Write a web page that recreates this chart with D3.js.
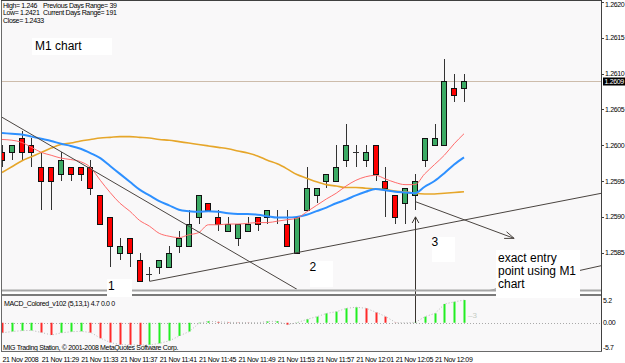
<!DOCTYPE html>
<html>
<head>
<meta charset="utf-8">
<script src="https://cdn.jsdelivr.net/npm/d3@7"></script>
<style>
body { margin: 0; background: #fff; }
svg { display: block; }
.small { font-family: "Liberation Sans", Arial, sans-serif; font-size: 7px; letter-spacing: -0.35px; fill: #000; }
.note { font-family: "Liberation Sans", Arial, sans-serif; font-size: 12px; fill: #000; }
</style>
</head>
<body>
<div id="chart"></div>
<script>
const width = 625, height = 363;

// M1 candles, 21 Nov 2008 11:25 .. 12:12
const opens  = [1.2599,1.2599,1.2601,1.2600,1.2597,1.2597,1.2596,1.2597,1.2597,1.2597,1.2593,1.2590,1.2585,1.2587,1.2584,1.2582,
                1.2583,1.2583,1.2586,1.2586,1.2590,1.2592,1.2590,1.2588,1.2587,1.2588,1.2590,1.2590,1.2590,1.2589,1.2585,1.2591,
                1.2593,1.2595,1.2595,1.2598,1.2599,1.2598,1.2600,1.2595,1.2593,1.2592,1.2593,1.2598,1.2600,1.2600,1.2608,1.2608];
const highs  = [1.2600,1.2600,1.2602,1.2601,1.2599,1.2597,1.2599,1.2597,1.2597,1.2598,1.2593,1.2590,1.2587,1.2587,1.2585,1.2583,
                1.2584,1.2586,1.2588,1.2591,1.2593,1.2592,1.2591,1.2590,1.2589,1.2590,1.2590,1.2591,1.2591,1.2591,1.2590,1.2597,
                1.2594,1.2596,1.2600,1.2603,1.2600,1.2600,1.2600,1.2597,1.2593,1.2594,1.2596,1.2601,1.2603,1.2612,1.2610,1.2610];
const lows   = [1.2597,1.2598,1.2598,1.2597,1.2591,1.2591,1.2595,1.2595,1.2595,1.2593,1.2589,1.2583,1.2584,1.2583,1.2581,1.2581,
                1.2582,1.2583,1.2585,1.2586,1.2589,1.2591,1.2588,1.2588,1.2586,1.2588,1.2588,1.2589,1.2589,1.2586,1.2585,1.2591,
                1.2592,1.2594,1.2595,1.2597,1.2597,1.2597,1.2595,1.2590,1.2589,1.2589,1.2591,1.2597,1.2600,1.2600,1.2606,1.2606];
const closes = [1.2598,1.2600,1.2599,1.2599,1.2595,1.2595,1.2598,1.2596,1.2596,1.2594,1.2589,1.2586,1.2586,1.2585,1.2581,1.2582,
                1.2584,1.2585,1.2587,1.2589,1.2593,1.2591,1.2589,1.2589,1.2589,1.2589,1.2589,1.2591,1.2590,1.2586,1.2590,1.2594,
                1.2594,1.2596,1.2597,1.2600,1.2599,1.2599,1.2596,1.2594,1.2590,1.2594,1.2595,1.2601,1.2601,1.2609,1.2607,1.2609];

// moving averages (red fast, blue mid, orange slow)
const maRed    = [1.26008,1.26007,1.26004,1.25997,1.25990,1.25986,1.25982,1.25980,1.25977,1.25969,1.25951,1.25934,1.25919,1.25908,1.25895,1.25887,
                  1.25877,1.25873,1.25871,1.25875,1.25878,1.25889,1.25889,1.25890,1.25890,1.25891,1.25892,1.25892,1.25894,1.25896,1.25898,1.25907,
                  1.25916,1.25925,1.25933,1.25943,1.25951,1.25956,1.25958,1.25953,1.25948,1.25945,1.25945,1.25960,1.25973,1.25986,1.26002,1.26016];
const maBlue   = [1.26017,1.26016,1.26015,1.26012,1.26009,1.26006,1.26002,1.25999,1.25995,1.25989,1.25982,1.25971,1.25960,1.25949,1.25938,1.25930,
                  1.25922,1.25916,1.25910,1.25908,1.25907,1.25908,1.25907,1.25905,1.25904,1.25904,1.25903,1.25901,1.25899,1.25899,1.25900,1.25903,
                  1.25908,1.25913,1.25919,1.25924,1.25930,1.25935,1.25939,1.25937,1.25935,1.25934,1.25933,1.25942,1.25950,1.25961,1.25973,1.25983];
const maOrange = [1.25962,1.25970,1.25978,1.25984,1.25990,1.25996,1.26001,1.26003,1.26006,1.26008,1.26010,1.26011,1.26012,1.26012,1.26011,1.26010,
                  1.26008,1.26007,1.26005,1.26003,1.26001,1.25999,1.25997,1.25995,1.25992,1.25989,1.25985,1.25979,1.25974,1.25967,1.25959,1.25954,
                  1.25949,1.25945,1.25943,1.25941,1.25941,1.25940,1.25939,1.25938,1.25936,1.25935,1.25933,1.25932,1.25932,1.25933,1.25934,1.25935];

// MACD_Colored histogram
const macdVals = [-2.3,-2.0,-1.8,-1.75,-2.25,-2.8,-2.3,-2.05,-1.95,-2.25,-3.55,-4.55,-5.0,-5.05,-5.1,-5.05,
                  -4.7,-4.1,-3.0,-2.0,-0.1,0.35,0.2,0.1,0.05,0.05,0.0,0.3,0.35,-0.45,0.05,0.8,
                  1.4,2.15,2.55,3.3,3.55,3.3,2.4,1.4,0.05,0.0,0.1,1.4,2.15,4.3,4.8,5.2];

const priceTicks = [1.2620,1.2615,1.2610,1.2605,1.2600,1.2595,1.2590,1.2585];
const macdTicks = [5.2, 0, -5.7];
const macdTickLabels = ["5.2", "0.00", "-5.7"];
const timeIdx = [0,4,8,12,16,20,24,28,32,36,40,44];
const timeLabels = ["21 Nov 2008","21 Nov 11:29","21 Nov 11:33","21 Nov 11:37","21 Nov 11:41","21 Nov 11:45",
                    "21 Nov 11:49","21 Nov 11:53","21 Nov 11:57","21 Nov 12:01","21 Nov 12:05","21 Nov 12:09"];
const bid = 1.2609;

const infoLines = [["High= 1.246", "Previous Days Range= 39"], ["Low= 1.2421", "Current Days Range= 191"], ["Close= 1.2433", ""]];

// drawn objects: [index, price]
const trend1 = [[0, 1.26039], [30, 1.25799]];
const trend2 = [[15, 1.2581], [61, 1.25933]];
const trend3 = [[49.5, 1.25797], [61, 1.25832]];
const arrow1 = [[42.1, 1.25921], [52.1, 1.25870]];

const n = opens.length;

const svg = d3.select("#chart").append("svg")
  .attr("width", width).attr("height", height);

const x = d3.scaleLinear().domain([0, 47]).range([2, 464]);
const y = d3.scaleLinear().domain([1.2585, 1.2620]).range([252.7, 1.9]);
const ym = d3.scaleLinear().domain([-5.7, 5.2]).range([347.7, 300]);
const cx = i => Math.round(x(i)) + 0.5;

const defs = svg.append("defs");
defs.append("clipPath").attr("id", "mainClip")
  .append("rect").attr("x", 2).attr("y", 1).attr("width", 599).attr("height", 288.5);
defs.append("clipPath").attr("id", "macdClip")
  .append("rect").attr("x", 2).attr("y", 296).attr("width", 599).attr("height", 55);

// panel backgrounds
svg.append("rect").attr("x", 2).attr("y", 1).attr("width", 599).attr("height", 289).attr("fill", "#f9f8f9");
svg.append("rect").attr("x", 2).attr("y", 296).attr("width", 599).attr("height", 55).attr("fill", "#f9f8f9");

const main = svg.append("g").attr("clip-path", "url(#mainClip)");

// bid line
main.append("line")
  .attr("x1", 2).attr("x2", 601)
  .attr("y1", Math.round(y(bid)) + 0.5).attr("y2", Math.round(y(bid)) + 0.5)
  .attr("stroke", "#cdbcab").attr("stroke-width", 1);

// candles
const idx = d3.range(n);
main.selectAll("line.wick").data(idx).join("line")
  .attr("class", "wick")
  .attr("x1", cx).attr("x2", cx)
  .attr("y1", i => Math.round(y(highs[i])))
  .attr("y2", i => Math.round(y(lows[i])))
  .attr("stroke", "#333").attr("stroke-width", 1);

main.selectAll("rect.body").data(idx.filter(i => opens[i] !== closes[i])).join("rect")
  .attr("class", "body")
  .attr("x", i => Math.round(x(i)) - 2.5)
  .attr("y", i => Math.round(y(Math.max(opens[i], closes[i]))) + 0.5)
  .attr("width", 5)
  .attr("height", i => Math.round(y(Math.min(opens[i], closes[i]))) - Math.round(y(Math.max(opens[i], closes[i]))))
  .attr("fill", i => closes[i] > opens[i] ? "#3caa64" : "#ff0000")
  .attr("stroke", "#111").attr("stroke-width", 1);

main.selectAll("line.doji").data(idx.filter(i => opens[i] === closes[i])).join("line")
  .attr("class", "doji")
  .attr("x1", i => Math.round(x(i)) - 3).attr("x2", i => Math.round(x(i)) + 3)
  .attr("y1", i => Math.round(y(opens[i])) + 0.5).attr("y2", i => Math.round(y(opens[i])) + 0.5)
  .attr("stroke", "#333");

// moving averages
const maLine = d3.line().x((d, i) => x(i)).y(d => y(d)).curve(d3.curveMonotoneX);
main.append("path").attr("d", maLine(maOrange)).attr("fill", "none").attr("stroke", "#e6a62a").attr("stroke-width", 1.6);
main.append("path").attr("d", maLine(maBlue)).attr("fill", "none").attr("stroke", "#2e90ff").attr("stroke-width", 2);
main.append("path").attr("d", maLine(maRed)).attr("fill", "none").attr("stroke", "#ff6b6b").attr("stroke-width", 1);

// trend lines
const pt = d => [x(d[0]), y(d[1])];
[trend1, trend2, trend3, arrow1].forEach(t => {
  const a = pt(t[0]), b = pt(t[1]);
  main.append("line")
    .attr("x1", a[0]).attr("y1", a[1]).attr("x2", b[0]).attr("y2", b[1])
    .attr("stroke", "#4a4440").attr("stroke-width", 1);
});

function arrowHead(a, b, len, ang) {
  const th = Math.atan2(b[1] - a[1], b[0] - a[0]);
  const w1 = [b[0] - len * Math.cos(th - ang), b[1] - len * Math.sin(th - ang)];
  const w2 = [b[0] - len * Math.cos(th + ang), b[1] - len * Math.sin(th + ang)];
  return `M${w1}L${b}L${w2}`;
}
main.append("path")
  .attr("d", arrowHead(pt(arrow1[0]), pt(arrow1[1]), 10, 0.36))
  .attr("fill", "none").attr("stroke", "#4a4440");

// MACD panel
const macdG = svg.append("g").attr("clip-path", "url(#macdClip)");
macdG.append("line")
  .attr("x1", 2).attr("x2", 601)
  .attr("y1", Math.round(ym(0)) + 0.5).attr("y2", Math.round(ym(0)) + 0.5)
  .attr("stroke", "#a9a9a9").attr("stroke-dasharray", "1,2");

macdG.selectAll("rect.hist").data(idx).join("rect")
  .attr("class", "hist")
  .attr("x", i => Math.round(x(i)) - 0.5)
  .attr("width", 2)
  .attr("y", i => Math.min(ym(0), ym(macdVals[i])))
  .attr("height", i => Math.abs(ym(macdVals[i]) - ym(0)))
  .attr("fill", i => (i > 0 && macdVals[i] > macdVals[i - 1]) ? "#22ee22" : "#ff2a2a");

macdG.append("path")
  .attr("d", d3.line().x((d, i) => x(i) + 0.5).y(d => ym(d))(macdVals))
  .attr("fill", "none").attr("stroke", "#b8b8b8").attr("stroke-dasharray", "1,2");

svg.append("text").attr("class", "small").attr("x", 4).attr("y", 306)
  .text("MACD_Colored_v102 (5,13,1) 4.7 0.0 0");
svg.append("text").attr("class", "small").attr("x", 3).attr("y", 350)
  .text("MIG Trading Station, \u00a9 2001-2008 MetaQuotes Software Corp.");
svg.append("text").attr("x", 468).attr("y", 318)
  .attr("font-family", "Liberation Sans, Arial, sans-serif").attr("font-size", 8)
  .attr("fill", "#c4ccc4").text("\u20133");

// vertical arrow across panels
const vx = cx(42);
const vTop = y(1.2590), vBot = ym(0);
svg.append("line").attr("x1", vx).attr("x2", vx).attr("y1", vTop).attr("y2", vBot)
  .attr("stroke", "#3a3530").attr("stroke-width", 1);
svg.append("path")
  .attr("d", arrowHead([vx, vBot], [vx, vTop], 7, 0.5))
  .attr("fill", "none").attr("stroke", "#3a3530");

// frames and separators
svg.append("line").attr("x1", 2).attr("x2", 601).attr("y1", 290.5).attr("y2", 290.5).attr("stroke", "#a6a6a6").attr("stroke-width", 2);
svg.append("line").attr("x1", 2).attr("x2", 601).attr("y1", 295).attr("y2", 295).attr("stroke", "#7a7a7a").attr("stroke-width", 2);
svg.append("line").attr("x1", 1.5).attr("x2", 1.5).attr("y1", 0).attr("y2", 352).attr("stroke", "#6a6a6a");
svg.append("line").attr("x1", 601.5).attr("x2", 601.5).attr("y1", 0).attr("y2", 352).attr("stroke", "#404040");
svg.append("line").attr("x1", 1).attr("x2", 602).attr("y1", 0.5).attr("y2", 0.5).attr("stroke", "#404040");
svg.append("line").attr("x1", 1).attr("x2", 602).attr("y1", 351.5).attr("y2", 351.5).attr("stroke", "#6a6a6a");

// price axis
const pAxis = svg.append("g");
pAxis.selectAll("line").data(priceTicks).join("line")
  .attr("x1", 601).attr("x2", 604)
  .attr("y1", d => Math.round(y(d)) + 0.5).attr("y2", d => Math.round(y(d)) + 0.5)
  .attr("stroke", "#404040");
pAxis.selectAll("text").data(priceTicks).join("text")
  .attr("class", "small").attr("x", 605).attr("y", d => Math.max(y(d) + 2.5, 6.5))
  .text(d => d.toFixed(4));

svg.append("rect").attr("x", 603).attr("y", Math.round(y(bid)) - 3.5).attr("width", 22).attr("height", 8).attr("fill", "#000");
svg.append("text").attr("class", "small").attr("x", 604.5).attr("y", y(bid) + 3)
  .style("fill", "#fff").text(bid.toFixed(4));

// macd axis
svg.selectAll("text.mtick").data(macdTicks).join("text")
  .attr("class", "small mtick").attr("x", 603).attr("y", d => ym(d) + 2.5)
  .text((d, i) => macdTickLabels[i]);

// time axis
svg.selectAll("text.ttick").data(timeIdx).join("text")
  .attr("class", "small ttick").attr("x", i => x(i) + 0.5).attr("y", 361.5)
  .text((d, k) => timeLabels[k]);

// info text top-left
infoLines.forEach((l, k) => {
  svg.append("text").attr("class", "small").attr("x", 3).attr("y", 7.5 + k * 7.5).text(l[0]);
  if (l[1]) svg.append("text").attr("class", "small").attr("x", 43).attr("y", 7.5 + k * 7.5).text(l[1]);
});

// pasted notes
const notes = [
  { box: [32, 38, 80, 17], lines: ["M1 chart"], tx: 35, ty: 50 },
  { box: [107, 279, 25, 18], lines: ["1"], tx: 108, ty: 289.5 },
  { box: [310, 261, 23, 26], lines: ["2"], tx: 309.5, ty: 271 },
  { box: [432, 237, 23, 25], lines: ["3"], tx: 431.5, ty: 246 },
  { box: [496, 250, 84, 48], lines: ["exact entry", "point using M1", "chart"], tx: 498, ty: 261.5 }
];
notes.forEach(nt => {
  svg.append("rect").attr("x", nt.box[0]).attr("y", nt.box[1])
    .attr("width", nt.box[2]).attr("height", nt.box[3]).attr("fill", "#fff");
  nt.lines.forEach((s, k) => {
    svg.append("text").attr("class", "note").attr("x", nt.tx).attr("y", nt.ty + k * 13).text(s);
  });
});
</script>
</body>
</html>
